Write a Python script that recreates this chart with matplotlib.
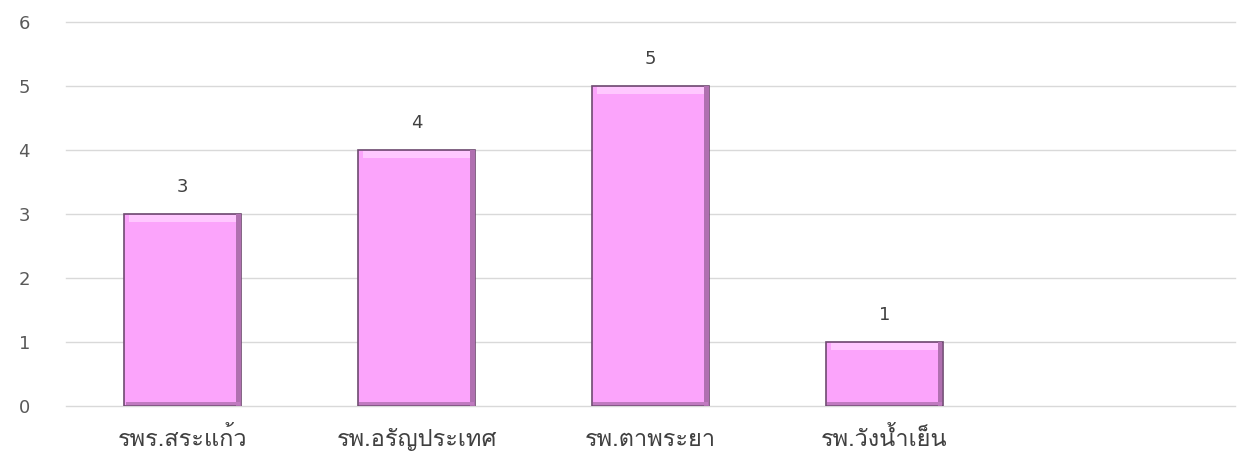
import matplotlib
matplotlib.use("Agg")
import matplotlib.pyplot as plt
from matplotlib import font_manager
from matplotlib.ft2font import FT2Font

hospitals = ["รพร.สระแก้ว", "รพ.อรัญประเทศ", "รพ.ตาพระยา", "รพ.วังน้ำเย็น", ""]
counts = [3, 4, 5, 1, None]

# find a font that has Thai letters
thai_font = None
for f in font_manager.fontManager.ttflist:
    try:
        if 0x0E23 in FT2Font(f.fname).get_charmap():
            thai_font = f.name
            break
    except Exception:
        pass
fams = [thai_font, "DejaVu Sans"] if thai_font else ["DejaVu Sans"]
plt.rcParams["font.family"] = fams

fig = plt.figure(figsize=(12.41, 4.62), dpi=100)
ax = fig.add_axes([0.0532, 0.121, 0.942, 0.831])

x = list(range(len(hospitals)))
vals = [c for c in counts if c is not None]
xs = x[:len(vals)]
w = 0.5
ax.bar(xs, vals, width=w, color="#FBA4FB", edgecolor="#6E4A70", linewidth=1.2, zorder=3)
# bevel look: light strip on top, darker strips on the right and bottom
ax.bar(xs, [0.1] * len(vals), bottom=[v - 0.12 for v in vals], width=w - 0.04,
       color="#FFC8FF", linewidth=0, zorder=4)
ax.bar([xi + w / 2 - 0.012 for xi in xs], vals, width=0.02,
       color="#B070B0", linewidth=0, zorder=4)
ax.bar(xs, [0.05] * len(vals), bottom=0.01, width=w - 0.01,
       color="#C07AC0", linewidth=0, zorder=4)
for xi, v in zip(xs, vals):
    ax.text(xi, v + 0.28, str(v), ha="center", va="bottom", fontsize=13, color="#404040",
            family="DejaVu Sans")

ax.set_xlim(-0.5, len(hospitals) - 0.5)
ax.set_ylim(0, 6)
ax.set_yticks(range(7))
ax.set_xticks(x)
ax.set_xticklabels(hospitals, fontsize=17, color="#404040", fontweight="medium")
ax.yaxis.grid(True, color="#D9D9D9", linewidth=1, zorder=0)
for gl in ax.get_ygridlines():
    gl.set_clip_on(False)
ax.set_axisbelow(True)
for s in ax.spines.values():
    s.set_visible(False)
ax.tick_params(axis="y", length=0, pad=26, labelsize=13, labelcolor="#595959")
ax.tick_params(axis="x", length=0, pad=29)
for lab in ax.get_yticklabels():
    lab.set_family("DejaVu Sans")
for lab in ax.get_xticklabels():
    lab.set_verticalalignment("baseline")

fig.savefig("out.png", dpi=100)
